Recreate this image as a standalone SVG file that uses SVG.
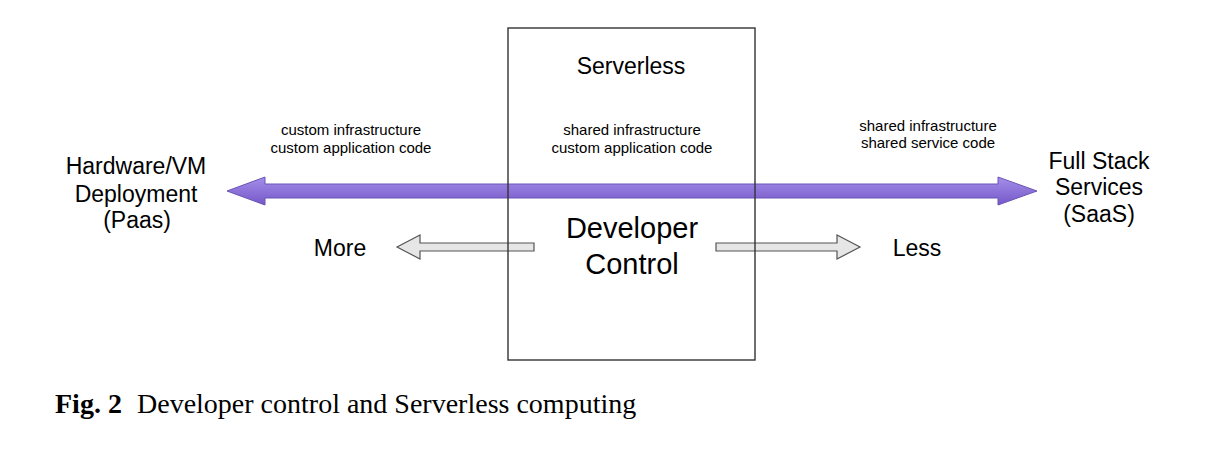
<svg xmlns="http://www.w3.org/2000/svg" width="1216" height="453" viewBox="0 0 1216 453">
<defs>
<linearGradient id="purple" x1="0" y1="0" x2="0" y2="1">
<stop offset="0" stop-color="#a48ee9"/>
<stop offset="1" stop-color="#7558c8"/>
</linearGradient>
<style>
.lbl{font-family:"Liberation Sans",Arial,sans-serif;fill:#000;text-anchor:middle}
.big{font-size:23px}
.small{font-size:15px}
.dev{font-size:29px}
.cap{font-family:"Liberation Serif","Times New Roman",serif;font-size:28px;fill:#000}
.gray{fill:#e6e6e6;stroke:#555;stroke-width:1.2}
</style>
</defs>
<rect width="1216" height="453" fill="#fff"/>
<g id="connectors">
<polygon points="227,191 265,177 265,184 998,184 998,177 1037,191 998,205 998,198 265,198 265,205" fill="url(#purple)" stroke="#6a54b6" stroke-width="1"/>
<polygon class="gray" points="397,247 420,235 420,243 534,243 534,251 420,251 420,259"/>
<polygon class="gray" points="860,247 837,235 837,243 716,243 716,251 837,251 837,259"/>
</g>
<g id="serverless">
<rect x="508" y="28" width="247" height="332" fill="none" stroke="#333" stroke-width="1.4"/>
<text class="lbl big" x="631" y="74">Serverless</text>
<text class="lbl small" x="632" y="135">shared infrastructure</text>
<text class="lbl small" x="632" y="153">custom application code</text>
<text class="lbl dev" x="632" y="238">Developer</text>
<text class="lbl dev" x="632" y="274">Control</text>
</g>
<g id="paas">
<text class="lbl big" x="136" y="174">Hardware/VM</text>
<text class="lbl big" x="136" y="202">Deployment</text>
<text class="lbl big" x="137" y="228">(Paas)</text>
</g>
<g id="custom">
<text class="lbl small" x="351" y="135">custom infrastructure</text>
<text class="lbl small" x="351" y="153">custom application code</text>
</g>
<g id="saas">
<text class="lbl big" x="1099" y="169">Full Stack</text>
<text class="lbl big" x="1099" y="195">Services</text>
<text class="lbl big" x="1099" y="222">(SaaS)</text>
</g>
<g id="shared">
<text class="lbl small" x="928" y="131">shared infrastructure</text>
<text class="lbl small" x="928" y="148">shared service code</text>
</g>
<g id="more"><text class="lbl big" x="340" y="256">More</text></g>
<g id="less"><text class="lbl big" x="917" y="256">Less</text></g>
<g id="caption">
<text class="cap" x="55" y="413" font-weight="bold">Fig. 2</text>
<text class="cap" x="137" y="413">Developer control and Serverless computing</text>
</g>
</svg>
